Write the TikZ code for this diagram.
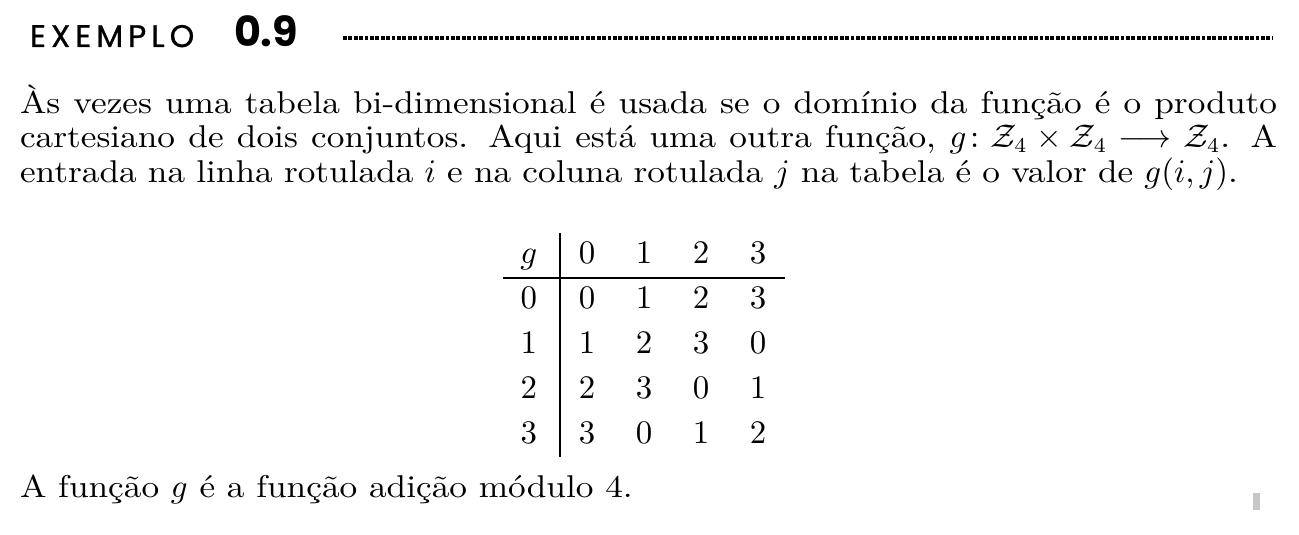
\documentclass[tikz,border=0pt]{standalone}
\usepackage{amsmath}
\usepackage{amssymb}
\usepackage{fontspec}
\setmainfont{Latin Modern Roman}[FakeStretch=1.12]
\newfontfamily\headfont[LetterSpace=16,FakeBold=0.8]{Poppins}
\newfontfamily\numfont{Poppins}
\usepackage{tikz}
\tikzset{
    every node/.style={inner sep=0pt, outer sep=0pt, anchor=base west}
}
\tikzset{
    txt/.style={font=\fontsize{10.5}{12}\selectfont},
    headtxt/.style={font=\headfont\fontsize{10.4}{12}\selectfont},
    headnum/.style={font=\numfont\bfseries\fontsize{13.8}{15}\selectfont},
    cell/.style={anchor=base, font=\fontsize{11.4}{14}\selectfont},
    rule/.style={line width=0.8pt},
    dots/.style={line width=1.45pt, dash pattern=on 1.3pt off 0.5pt},
    qedbox/.style={anchor=center, fill=black!22, minimum width=2.33pt,
    	minimum height=5.67pt}
}

\begin{document}
\begin{tikzpicture}[x=1pt,y=-1pt]
	\useasboundingbox (0,0) rectangle (433,178.33);
	\node[headtxt] (ex) at (10,15.67) {EXEMPLO};
	\node[headnum] (num) at (78,15.67) {0.9};
	\coordinate (d1) at (114.3,12.6);
	\coordinate (d2) at (424.3,12.6);
	\draw[dots] (d1) -- (d2);
	
	\node[txt] (l1) at (6.67,37.7) {\makebox[419pt][s]{Às vezes uma tabela bi-dimensional é usada se o domínio da função é o produto}};
	\node[txt] (l2) at (6.67,49.3) {\makebox[419pt][s]{cartesiano de dois conjuntos. Aqui está uma outra função, $g\colon \mathcal{Z}_4\times\mathcal{Z}_4\longrightarrow\mathcal{Z}_4$. A}};
	\node[txt] (l3) at (6.67,60.7) {\makebox[406pt][s]{entrada na linha rotulada $i$ e na coluna rotulada $j$ na tabela é o valor de $g(i,j)$.}};
	
	\node[cell] (hg) at (176.3,87.7) {$g$};
	\foreach \c in {0,...,3}
		\node[cell] (h\c) at (195.7+19*\c,87.7) {$\c$};
	\foreach \r in {0,...,3} {
		\node[cell] (r\r) at (176.3,102.7+15*\r) {$\r$};
		\foreach \c in {0,...,3} {
			\pgfmathtruncatemacro\v{mod(\r+\c,4)}
			\node[cell] (c\r\c) at (195.7+19*\c,102.7+15*\r) {$\v$};
		}
	}
	\coordinate (vt) at (186.7,77.7); \coordinate (vb) at (186.7,152.3);
	\coordinate (hl) at (167.7,92.7); \coordinate (hr) at (261.7,92.7);
	\draw[rule] (vt) -- (vb); \draw[rule] (hl) -- (hr);
	
	\node[txt] (last) at (6.67,166) {A função $g$ é a função adição módulo 4.};
	\node[qedbox] (qed) at (418.8,167.2) {};
\end{tikzpicture}
\end{document}
